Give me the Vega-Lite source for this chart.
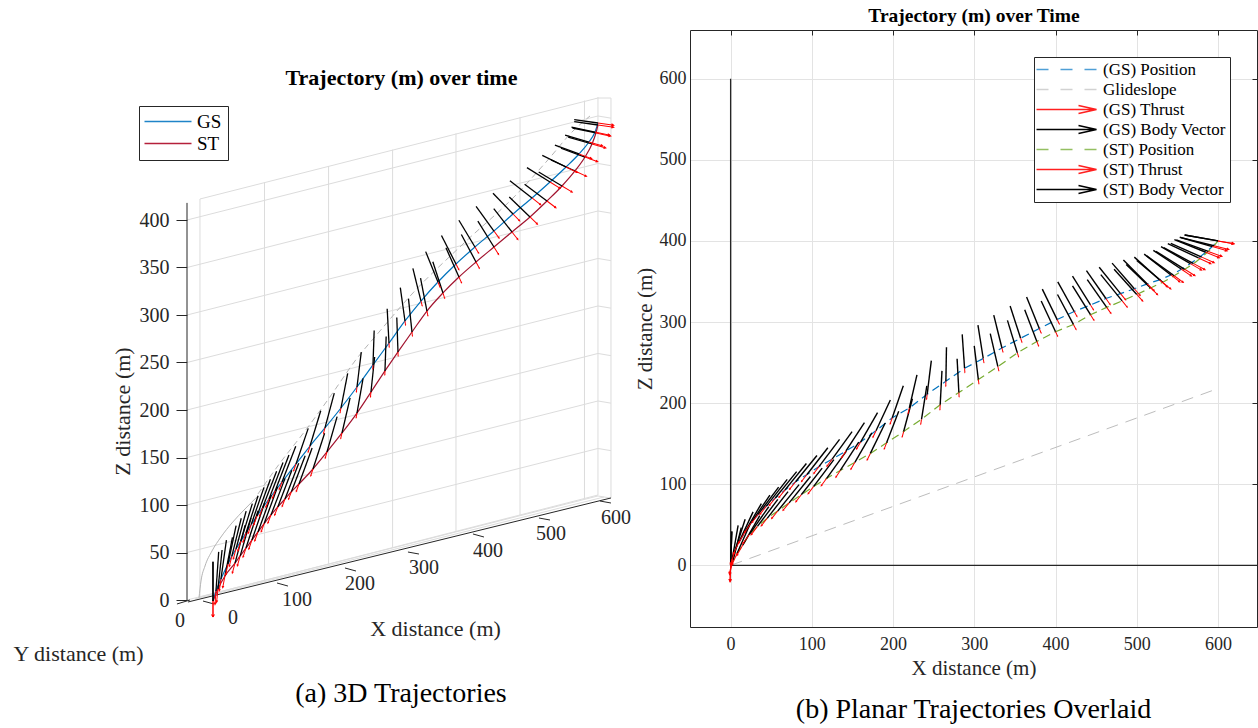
{
  "$schema": "https://vega.github.io/schema/vega-lite/v6.json",
  "padding": {"left": 12, "top": 5, "right": 2, "bottom": 2},
  "background": "white",
  "bounds": "flush",
  "spacing": 75,
  "resolve": {"scale": {"color": "independent", "shape": "independent", "size": "independent", "angle": "independent"}, "legend": {"color": "independent", "shape": "independent"}},
  "config": {
    "font": "Liberation Serif",
    "view": {"stroke": null},
    "axis": {"labelFont": "Liberation Serif", "titleFont": "Liberation Serif", "labelColor": "#262626", "titleColor": "#262626", "titleFontWeight": "normal", "domainColor": "#262626", "tickColor": "#262626"},
    "title": {"font": "Liberation Serif"},
    "legend": {"labelFont": "Liberation Serif"}
  },
  "datasets": {
    "lgrid": [
      {"x": -40.1, "y": 0, "x2": 594.1, "y2": 109.5}, {"x": 594.1, "y": 109.5, "x2": 614.2, "y2": 107.2},
      {"x": -40.1, "y": 50, "x2": 594.1, "y2": 159.5}, {"x": 594.1, "y": 159.5, "x2": 614.2, "y2": 157.2},
      {"x": -40.1, "y": 100, "x2": 594.1, "y2": 209.5}, {"x": 594.1, "y": 209.5, "x2": 614.2, "y2": 207.2},
      {"x": -40.1, "y": 150, "x2": 594.1, "y2": 259.5}, {"x": 594.1, "y": 259.5, "x2": 614.2, "y2": 257.2},
      {"x": -40.1, "y": 200, "x2": 594.1, "y2": 309.5}, {"x": 594.1, "y": 309.5, "x2": 614.2, "y2": 307.2},
      {"x": -40.1, "y": 250, "x2": 594.1, "y2": 359.5}, {"x": 594.1, "y": 359.5, "x2": 614.2, "y2": 357.2},
      {"x": -40.1, "y": 300, "x2": 594.1, "y2": 409.5}, {"x": 594.1, "y": 409.5, "x2": 614.2, "y2": 407.2},
      {"x": -40.1, "y": 350, "x2": 594.1, "y2": 459.5}, {"x": 594.1, "y": 459.5, "x2": 614.2, "y2": 457.2},
      {"x": -40.1, "y": 400, "x2": 594.1, "y2": 509.5}, {"x": 594.1, "y": 509.5, "x2": 614.2, "y2": 507.2},
      {"x": -20.1, "y": 3.2, "x2": -20.1, "y2": 422.1},
      {"x": 79.5, "y": 20.5, "x2": 79.5, "y2": 439.5},
      {"x": 178.4, "y": 37.8, "x2": 178.4, "y2": 456.7},
      {"x": 277.2, "y": 55.1, "x2": 277.2, "y2": 474.0},
      {"x": 375.0, "y": 72.1, "x2": 375.0, "y2": 491.1},
      {"x": 473.8, "y": 89.4, "x2": 473.8, "y2": 508.3},
      {"x": 573.3, "y": 106.7, "x2": 573.3, "y2": 525.7},
      {"x": 594.1, "y": 110.4, "x2": 594.1, "y2": 529.4},
      {"x": 614.2, "y": 107.4, "x2": 614.2, "y2": 528.4},
      {"x": -20.1, "y": 422.1, "x2": 594.1, "y2": 528.4},
      {"x": 594.1, "y": 528.4, "x2": 614.2, "y2": 528.4},
      {"x": -20.1, "y": 3.2, "x2": 594.1, "y2": 110.5},
      {"x": -27.8, "y": 1.1, "x2": 603.4, "y2": 108.4}
    ],
    "ldark": [
      {"x": -38.6, "y": -2.1, "x2": 614.2, "y2": 107.4},
      {"x": -40.1, "y": 0, "x2": -40.1, "y2": 418},
      {"x": 98.8, "y": 17.9, "x2": 115.7, "y2": 14.7},
      {"x": 203.7, "y": 33.7, "x2": 220.7, "y2": 30.5},
      {"x": 300.9, "y": 50.5, "x2": 317.9, "y2": 48.4},
      {"x": 401.2, "y": 69.5, "x2": 418.2, "y2": 66.3},
      {"x": 503.1, "y": 86.3, "x2": 520.1, "y2": 84.2},
      {"x": 597.2, "y": 104.2, "x2": 614.2, "y2": 102.1},
      {"x": -15.4, "y": -1.1, "x2": 1.5, "y2": -4.2},
      {"x": -55.6, "y": -4.2, "x2": -35.5, "y2": 0}
    ],
    "llab": [
      {"t": "0", "x": 30.9, "y": -18.9}, {"t": "100", "x": 129.6, "y": 0}, {"t": "200", "x": 226.9, "y": 16.8},
      {"t": "300", "x": 325.6, "y": 33.7}, {"t": "400", "x": 424.4, "y": 51.6}, {"t": "500", "x": 521.6, "y": 69.5},
      {"t": "600", "x": 621.9, "y": 86.3}, {"t": "0", "x": -50.9, "y": -22.1}
    ],
    "lgray1": [
      {"x": -21.6, "y": 2.1}, {"x": -18.5, "y": 20.0}, {"x": -12.3, "y": 35.8}, {"x": -1.5, "y": 51.6},
      {"x": 12.3, "y": 66.3}, {"x": 29.3, "y": 81.1}, {"x": 49.4, "y": 95.8}, {"x": 69.4, "y": 109.5}
    ],
    "lgray2": [
      {"x": 69.4, "y": 111.6}, {"x": 103.4, "y": 144.2}, {"x": 142.0, "y": 177.9}, {"x": 183.6, "y": 216.8},
      {"x": 219.1, "y": 251.6}, {"x": 257.7, "y": 283.2}, {"x": 308.6, "y": 323.2}, {"x": 385.8, "y": 374.7},
      {"x": 469.1, "y": 427.4}, {"x": 515.4, "y": 462.1}, {"x": 555.6, "y": 493.7}, {"x": 581.8, "y": 509.5}
    ],
    "lgs": [
      {"x": 594.1, "y": 502.1, "h": -82, "b": 30, "t": 20},
      {"x": 589.5, "y": 492.6, "h": -78, "b": 30, "t": 19},
      {"x": 580.2, "y": 482.1, "h": -74, "b": 31, "t": 18},
      {"x": 564.8, "y": 469.5, "h": -70, "b": 32, "t": 17},
      {"x": 544.8, "y": 455.8, "h": -64, "b": 33, "t": 16},
      {"x": 520.1, "y": 440.0, "h": -58, "b": 34, "t": 15},
      {"x": 492.3, "y": 423.2, "h": -52, "b": 35, "t": 14},
      {"x": 463.0, "y": 406.3, "h": -44, "b": 36, "t": 12},
      {"x": 433.6, "y": 388.4, "h": -36, "b": 38, "t": 11},
      {"x": 404.3, "y": 371.6, "h": -31, "b": 39, "t": 9},
      {"x": 375.0, "y": 353.7, "h": -27, "b": 40, "t": 8},
      {"x": 347.2, "y": 334.7, "h": -22, "b": 41, "t": 7},
      {"x": 321.0, "y": 314.7, "h": -14, "b": 42, "t": 6},
      {"x": 296.3, "y": 293.7, "h": -8, "b": 42, "t": 5},
      {"x": 271.6, "y": 270.5, "h": -3, "b": 43, "t": 5},
      {"x": 246.9, "y": 247.4, "h": 2, "b": 43, "t": 5},
      {"x": 222.2, "y": 224.2, "h": 7, "b": 44, "t": 6},
      {"x": 197.5, "y": 202.1, "h": 11, "b": 44, "t": 6},
      {"x": 172.8, "y": 181.1, "h": 15, "b": 45, "t": 7},
      {"x": 149.7, "y": 162.1, "h": 17, "b": 46, "t": 8},
      {"x": 128.1, "y": 143.2, "h": 19, "b": 47, "t": 9},
      {"x": 106.5, "y": 124.2, "h": 21, "b": 48, "t": 10},
      {"x": 96.0, "y": 115.0, "h": 21, "b": 48, "t": 10},
      {"x": 86.4, "y": 106.3, "h": 21, "b": 49, "t": 11},
      {"x": 76.5, "y": 97.0, "h": 21, "b": 49, "t": 11},
      {"x": 67.9, "y": 88.4, "h": 20, "b": 49, "t": 12},
      {"x": 59.0, "y": 79.5, "h": 19, "b": 49, "t": 12},
      {"x": 50.9, "y": 70.5, "h": 18, "b": 49, "t": 12},
      {"x": 43.0, "y": 62.0, "h": 17, "b": 49, "t": 13},
      {"x": 35.5, "y": 53.7, "h": 15, "b": 49, "t": 13},
      {"x": 29.0, "y": 46.0, "h": 14, "b": 49, "t": 13},
      {"x": 23.1, "y": 37.9, "h": 12, "b": 49, "t": 14},
      {"x": 12.3, "y": 22.1, "h": 8, "b": 49, "t": 15},
      {"x": 4.6, "y": 9.5, "h": 4, "b": 49, "t": 17},
      {"x": 0, "y": -1.1, "h": 0, "b": 49, "t": 20}
    ],
    "lst": [
      {"x": 594.1, "y": 500.0, "h": -82, "b": 30, "t": 20},
      {"x": 591.0, "y": 491.6, "h": -78, "b": 30, "t": 19},
      {"x": 584.9, "y": 480.0, "h": -74, "b": 31, "t": 18},
      {"x": 574.1, "y": 466.3, "h": -70, "b": 32, "t": 17},
      {"x": 558.6, "y": 451.6, "h": -65, "b": 33, "t": 16},
      {"x": 538.6, "y": 435.8, "h": -59, "b": 34, "t": 15},
      {"x": 515.4, "y": 420.0, "h": -53, "b": 35, "t": 14},
      {"x": 489.2, "y": 403.2, "h": -46, "b": 36, "t": 13},
      {"x": 461.4, "y": 387.4, "h": -38, "b": 37, "t": 12},
      {"x": 433.6, "y": 371.6, "h": -32, "b": 38, "t": 11},
      {"x": 405.9, "y": 355.8, "h": -28, "b": 39, "t": 9},
      {"x": 379.6, "y": 340.0, "h": -24, "b": 40, "t": 8},
      {"x": 354.9, "y": 323.2, "h": -18, "b": 41, "t": 7},
      {"x": 330.2, "y": 304.2, "h": -11, "b": 42, "t": 6},
      {"x": 307.1, "y": 282.1, "h": -6, "b": 42, "t": 5},
      {"x": 285.5, "y": 261.1, "h": -2, "b": 43, "t": 5},
      {"x": 265.4, "y": 241.1, "h": 2, "b": 43, "t": 5},
      {"x": 243.8, "y": 218.9, "h": 6, "b": 44, "t": 6},
      {"x": 222.2, "y": 196.8, "h": 10, "b": 44, "t": 6},
      {"x": 199.1, "y": 175.8, "h": 13, "b": 45, "t": 7},
      {"x": 175.9, "y": 155.8, "h": 16, "b": 46, "t": 8},
      {"x": 154.3, "y": 137.9, "h": 18, "b": 47, "t": 9},
      {"x": 132.7, "y": 122.1, "h": 20, "b": 48, "t": 10},
      {"x": 121.0, "y": 114.0, "h": 21, "b": 48, "t": 10},
      {"x": 111.1, "y": 106.3, "h": 21, "b": 48, "t": 10},
      {"x": 100.0, "y": 98.0, "h": 21, "b": 49, "t": 11},
      {"x": 89.5, "y": 89.5, "h": 21, "b": 49, "t": 11},
      {"x": 79.0, "y": 80.5, "h": 20, "b": 49, "t": 11},
      {"x": 69.4, "y": 71.6, "h": 20, "b": 49, "t": 12},
      {"x": 60.0, "y": 63.0, "h": 19, "b": 49, "t": 12},
      {"x": 50.9, "y": 54.7, "h": 18, "b": 49, "t": 12},
      {"x": 42.0, "y": 46.5, "h": 16, "b": 49, "t": 13},
      {"x": 34.0, "y": 38.9, "h": 15, "b": 49, "t": 13},
      {"x": 18.5, "y": 25.3, "h": 11, "b": 49, "t": 15},
      {"x": 7.7, "y": 11.6, "h": 6, "b": 49, "t": 17},
      {"x": 0, "y": -1.1, "h": 0, "b": 49, "t": 20}
    ],
    "lleg": [{"s": "GS"}, {"s": "ST"}],
    "glide": [{"x": 0, "z": 0}, {"x": 600, "z": 218}],
    "raxl": [{"x": 0, "z": 0, "x2": 0, "z2": 600}, {"x": 0, "z": 0, "x2": 648, "z2": 0}],
    "rgs": [
      {"x": 600, "z": 400, "h": -80, "t": 20}, {"x": 593, "z": 393, "h": -74, "t": 19},
      {"x": 585, "z": 386, "h": -68, "t": 18}, {"x": 576, "z": 379, "h": -65, "t": 17},
      {"x": 566, "z": 372, "h": -60, "t": 16}, {"x": 555, "z": 365, "h": -56, "t": 15},
      {"x": 542, "z": 358, "h": -52, "t": 14}, {"x": 528, "z": 352, "h": -48, "t": 13},
      {"x": 513, "z": 347, "h": -45, "t": 12}, {"x": 497, "z": 341, "h": -41, "t": 11},
      {"x": 480, "z": 335, "h": -39, "t": 10}, {"x": 462, "z": 329, "h": -35, "t": 9},
      {"x": 443, "z": 321, "h": -32, "t": 7}, {"x": 423, "z": 313, "h": -29, "t": 7},
      {"x": 402, "z": 303, "h": -26, "t": 6}, {"x": 380, "z": 292, "h": -22, "t": 6},
      {"x": 357, "z": 280, "h": -18, "t": 5}, {"x": 334, "z": 268, "h": -14, "t": 5},
      {"x": 311, "z": 255, "h": -9, "t": 5}, {"x": 288, "z": 243, "h": -4, "t": 5},
      {"x": 265, "z": 227, "h": 1, "t": 6}, {"x": 242, "z": 211, "h": 7, "t": 6},
      {"x": 220, "z": 194, "h": 13, "t": 7}, {"x": 199, "z": 182, "h": 19, "t": 8},
      {"x": 179, "z": 166, "h": 25, "t": 9}, {"x": 160, "z": 152, "h": 30, "t": 10},
      {"x": 142, "z": 141, "h": 33, "t": 10}, {"x": 125, "z": 131, "h": 36, "t": 11},
      {"x": 109, "z": 122, "h": 37, "t": 11}, {"x": 94, "z": 112, "h": 38, "t": 11},
      {"x": 80, "z": 103, "h": 39, "t": 12}, {"x": 67, "z": 93, "h": 39, "t": 12},
      {"x": 55, "z": 83, "h": 39, "t": 12}, {"x": 44, "z": 73, "h": 38, "t": 13},
      {"x": 34, "z": 63, "h": 37, "t": 13}, {"x": 25, "z": 52, "h": 34, "t": 14},
      {"x": 17, "z": 40, "h": 30, "t": 15}, {"x": 10, "z": 28, "h": 25, "t": 16},
      {"x": 5, "z": 17, "h": 18, "t": 17}, {"x": 2, "z": 8, "h": 10, "t": 19},
      {"x": 0, "z": 0, "h": 2, "t": 20}
    ],
    "rst": [
      {"x": 600, "z": 400, "h": -80, "t": 20}, {"x": 595, "z": 394, "h": -76, "t": 19},
      {"x": 588, "z": 387, "h": -70, "t": 18}, {"x": 580, "z": 380, "h": -66, "t": 17},
      {"x": 570, "z": 372, "h": -62, "t": 16}, {"x": 559, "z": 365, "h": -58, "t": 15},
      {"x": 546, "z": 357, "h": -54, "t": 14}, {"x": 532, "z": 349, "h": -50, "t": 13},
      {"x": 517, "z": 342, "h": -46, "t": 12}, {"x": 500, "z": 334, "h": -42, "t": 11},
      {"x": 482, "z": 326, "h": -39, "t": 10}, {"x": 463, "z": 318, "h": -35, "t": 9},
      {"x": 443, "z": 309, "h": -32, "t": 8}, {"x": 422, "z": 297, "h": -28, "t": 7},
      {"x": 400, "z": 288, "h": -25, "t": 6}, {"x": 377, "z": 276, "h": -21, "t": 6},
      {"x": 353, "z": 262, "h": -17, "t": 5}, {"x": 329, "z": 245, "h": -13, "t": 5},
      {"x": 305, "z": 229, "h": -7, "t": 5}, {"x": 281, "z": 213, "h": -3, "t": 5},
      {"x": 258, "z": 198, "h": 3, "t": 6}, {"x": 235, "z": 180, "h": 9, "t": 6},
      {"x": 213, "z": 165, "h": 15, "t": 7}, {"x": 192, "z": 151, "h": 21, "t": 8},
      {"x": 172, "z": 138, "h": 26, "t": 9}, {"x": 153, "z": 127, "h": 30, "t": 10},
      {"x": 135, "z": 117, "h": 33, "t": 10}, {"x": 118, "z": 107, "h": 36, "t": 11},
      {"x": 102, "z": 97, "h": 37, "t": 11}, {"x": 87, "z": 87, "h": 38, "t": 11},
      {"x": 72, "z": 77, "h": 39, "t": 12}, {"x": 58, "z": 67, "h": 39, "t": 12},
      {"x": 45, "z": 58, "h": 38, "t": 12}, {"x": 33, "z": 48, "h": 37, "t": 13},
      {"x": 23, "z": 38, "h": 35, "t": 14}, {"x": 15, "z": 25, "h": 30, "t": 15},
      {"x": 8, "z": 15, "h": 24, "t": 16}, {"x": 3, "z": 6, "h": 14, "t": 18},
      {"x": 0, "z": 0, "h": 2, "t": 20}
    ],
    "rleg": [
      {"s": "(GS) Position"}, {"s": "Glideslope"}, {"s": "(GS) Thrust"}, {"s": "(GS) Body Vector"},
      {"s": "(ST) Position"}, {"s": "(ST) Thrust"}, {"s": "(ST) Body Vector"}
    ]
  },
  "hconcat": [
    {
      "width": 428,
      "height": 570,
      "title": {"text": "(a) 3D Trajectories", "orient": "bottom", "anchor": "middle", "fontSize": 28, "fontWeight": "normal", "color": "#000000", "offset": 16},
      "resolve": {"axis": {"x": "independent", "y": "independent"}},
      "layer": [
        {
          "data": {"name": "lgrid"},
          "mark": {"type": "rule", "color": "#dcdcdc", "strokeWidth": 1},
          "encoding": {
            "x": {"field": "x", "type": "quantitative", "scale": {"domain": [-40.1, 620.4], "nice": false, "zero": false},
              "axis": {"orient": "top", "domain": false, "ticks": false, "labels": false, "grid": false, "title": "Trajectory (m) over time", "titleFontSize": 22, "titleFontWeight": "bold", "titleColor": "#000000", "titleX": 214, "titleY": 54, "titleAlign": "center", "titleBaseline": "alphabetic"}},
            "y": {"field": "y", "type": "quantitative", "scale": {"domain": [0, 600], "nice": false, "zero": false},
              "axis": {"orient": "left", "values": [0, 50, 100, 150, 200, 250, 300, 350, 400], "domain": false, "grid": false, "ticks": true, "tickSize": 11, "labelFontSize": 20, "labelPadding": 7, "title": "Z distance (m)", "titleFontSize": 22, "titleAngle": -90, "titleX": -65, "titleY": 381, "titleAlign": "center", "titleBaseline": "middle"}},
            "x2": {"field": "x2"},
            "y2": {"field": "y2"}
          }
        },
        {
          "data": {"name": "ldark"},
          "mark": {"type": "rule", "color": "#262626", "strokeWidth": 1},
          "encoding": {
            "x": {"field": "x", "type": "quantitative", "scale": {"domain": [-40.1, 620.4], "nice": false, "zero": false},
              "axis": {"orient": "bottom", "domain": false, "ticks": false, "labels": false, "grid": false, "title": "X distance (m)", "titleFontSize": 22, "titleX": 248, "titleY": 28, "titleAlign": "center", "titleBaseline": "middle"}},
            "y": {"field": "y", "type": "quantitative", "scale": {"domain": [0, 600], "nice": false, "zero": false},
              "axis": {"orient": "right", "domain": false, "ticks": false, "labels": false, "grid": false, "title": "Y distance (m)", "titleFontSize": 22, "titleAngle": 0, "titleX": -537, "titleY": 623, "titleAlign": "center", "titleBaseline": "middle"}},
            "x2": {"field": "x2"},
            "y2": {"field": "y2"}
          }
        },
        {
          "data": {"name": "lgray1"},
          "mark": {"type": "line", "color": "#b4b4b4", "strokeWidth": 1, "interpolate": "monotone"},
          "encoding": {
            "x": {"field": "x", "type": "quantitative", "axis": null},
            "y": {"field": "y", "type": "quantitative", "axis": null}
          }
        },
        {
          "data": {"name": "lgray2"},
          "mark": {"type": "line", "color": "#b4b4b4", "strokeWidth": 1, "strokeDash": [6, 4], "interpolate": "monotone"},
          "encoding": {
            "x": {"field": "x", "type": "quantitative", "axis": null},
            "y": {"field": "y", "type": "quantitative", "axis": null}
          }
        },
        {
          "data": {"name": "lgs"},
          "mark": {"type": "line", "color": "#0072BD", "strokeWidth": 1.2, "interpolate": "monotone"},
          "encoding": {
            "x": {"field": "x", "type": "quantitative", "axis": null},
            "y": {"field": "y", "type": "quantitative", "axis": null}
          }
        },
        {
          "data": {"name": "lst"},
          "mark": {"type": "line", "color": "#A2142F", "strokeWidth": 1.2, "interpolate": "monotone"},
          "encoding": {
            "x": {"field": "x", "type": "quantitative", "axis": null},
            "y": {"field": "y", "type": "quantitative", "axis": null}
          }
        },
        {
          "data": {"name": "lgs"},
          "mark": {"type": "point", "shape": "M0,0V-2", "filled": false, "color": "#000000", "strokeWidth": 1.3, "opacity": 1},
          "encoding": {
            "x": {"field": "x", "type": "quantitative", "axis": null},
            "y": {"field": "y", "type": "quantitative", "axis": null},
            "angle": {"field": "h", "type": "quantitative", "scale": {"domain": [-180, 180], "range": [-180, 180]}, "legend": null},
            "size": {"field": "b", "type": "quantitative", "scale": {"type": "pow", "exponent": 2, "domain": [0, 50], "range": [0, 1600]}, "legend": null}
          }
        },
        {
          "data": {"name": "lst"},
          "mark": {"type": "point", "shape": "M0,0V-2", "filled": false, "color": "#000000", "strokeWidth": 1.3, "opacity": 1},
          "encoding": {
            "x": {"field": "x", "type": "quantitative", "axis": null},
            "y": {"field": "y", "type": "quantitative", "axis": null},
            "angle": {"field": "h", "type": "quantitative", "scale": {"domain": [-180, 180], "range": [-180, 180]}, "legend": null},
            "size": {"field": "b", "type": "quantitative", "scale": {"type": "pow", "exponent": 2, "domain": [0, 50], "range": [0, 1600]}, "legend": null}
          }
        },
        {
          "data": {"name": "lgs"},
          "mark": {"type": "point", "shape": "M0,0V2M-0.15,1.7L0,2L0.15,1.7", "filled": false, "color": "#ff0000", "strokeWidth": 1, "opacity": 1},
          "encoding": {
            "x": {"field": "x", "type": "quantitative", "axis": null},
            "y": {"field": "y", "type": "quantitative", "axis": null},
            "angle": {"field": "h", "type": "quantitative", "scale": {"domain": [-180, 180], "range": [-180, 180]}, "legend": null},
            "size": {"field": "t", "type": "quantitative", "scale": {"type": "pow", "exponent": 2, "domain": [0, 50], "range": [0, 1600]}, "legend": null}
          }
        },
        {
          "data": {"name": "lst"},
          "mark": {"type": "point", "shape": "M0,0V2M-0.15,1.7L0,2L0.15,1.7", "filled": false, "color": "#ff0000", "strokeWidth": 1, "opacity": 1},
          "encoding": {
            "x": {"field": "x", "type": "quantitative", "axis": null},
            "y": {"field": "y", "type": "quantitative", "axis": null},
            "angle": {"field": "h", "type": "quantitative", "scale": {"domain": [-180, 180], "range": [-180, 180]}, "legend": null},
            "size": {"field": "t", "type": "quantitative", "scale": {"type": "pow", "exponent": 2, "domain": [0, 50], "range": [0, 1600]}, "legend": null}
          }
        },
        {
          "data": {"name": "llab"},
          "mark": {"type": "text", "font": "Liberation Serif", "fontSize": 20, "color": "#262626", "align": "center", "baseline": "middle"},
          "encoding": {
            "x": {"field": "x", "type": "quantitative", "axis": null},
            "y": {"field": "y", "type": "quantitative", "axis": null},
            "text": {"field": "t", "type": "nominal"}
          }
        },
        {
          "data": {"name": "lleg"},
          "mark": {"type": "point", "filled": false, "opacity": 0, "strokeWidth": 1.5},
          "encoding": {
            "color": {"field": "s", "type": "nominal", "scale": {"domain": ["GS", "ST"], "range": ["#1f84c8", "#b5203b"]},
              "legend": {"title": null, "orient": "none", "legendX": -48, "legendY": 76, "strokeColor": "#262626", "fillColor": "white", "padding": 6, "labelFontSize": 19, "labelColor": "#000000", "labelOffset": 33, "rowPadding": 2, "symbolStrokeWidth": 1.5, "symbolSize": 100, "symbolOpacity": 1}},
            "shape": {"field": "s", "type": "nominal", "scale": {"domain": ["GS", "ST"], "range": ["M-2,0H7.4", "M-2,0H7.4"]},
              "legend": {"title": null, "orient": "none", "legendX": -48, "legendY": 76, "strokeColor": "#262626", "fillColor": "white", "padding": 6, "labelFontSize": 19, "labelColor": "#000000", "labelOffset": 33, "rowPadding": 2, "symbolStrokeWidth": 1.5, "symbolSize": 100, "symbolOpacity": 1}}
          }
        }
      ]
    },
    {
      "width": 567,
      "height": 597,
      "title": {"text": "(b) Planar Trajectories Overlaid", "orient": "bottom", "anchor": "middle", "fontSize": 28, "fontWeight": "normal", "color": "#000000", "offset": 18},
      "resolve": {"axis": {"x": "independent", "y": "independent"}},
      "layer": [
        {
          "data": {"name": "glide"},
          "mark": {"type": "line", "color": "#bdbdbd", "strokeWidth": 1, "strokeDash": [12, 8]},
          "encoding": {
            "x": {"field": "x", "type": "quantitative", "scale": {"domain": [-50, 648], "nice": false, "zero": false},
              "axis": {"orient": "bottom", "values": [0, 100, 200, 300, 400, 500, 600], "grid": true, "gridColor": "#e3e3e3", "ticks": false, "domain": true, "labelFontSize": 18, "labelPadding": 8, "title": "X distance (m)", "titleFontSize": 21, "titlePadding": 4}},
            "y": {"field": "z", "type": "quantitative", "scale": {"domain": [-76, 660], "nice": false, "zero": false},
              "axis": {"orient": "left", "values": [0, 100, 200, 300, 400, 500, 600], "grid": true, "gridColor": "#e3e3e3", "ticks": false, "domain": true, "labelFontSize": 18, "labelPadding": 4, "title": "Z distance (m)", "titleFontSize": 21, "titlePadding": 4}}
          }
        },
        {
          "data": {"name": "rgs"},
          "mark": {"type": "line", "color": "#0072BD", "strokeWidth": 1.2, "strokeDash": [8, 5]},
          "encoding": {
            "x": {"field": "x", "type": "quantitative", "scale": {"domain": [-50, 648], "nice": false, "zero": false},
              "axis": {"orient": "top", "values": [0, 100, 200, 300, 400, 500, 600], "labels": false, "ticks": true, "tickSize": -5, "grid": false, "domain": true, "title": "Trajectory (m) over Time", "titleFontSize": 19.5, "titleFontWeight": "bold", "titleColor": "#000000", "titlePadding": 4}},
            "y": {"field": "z", "type": "quantitative", "scale": {"domain": [-76, 660], "nice": false, "zero": false},
              "axis": {"orient": "right", "values": [0, 100, 200, 300, 400, 500, 600], "labels": false, "ticks": true, "tickSize": -5, "grid": false, "domain": true, "title": null}}
          }
        },
        {
          "data": {"name": "rst"},
          "mark": {"type": "line", "color": "#77AC30", "strokeWidth": 1.2, "strokeDash": [8, 5]},
          "encoding": {
            "x": {"field": "x", "type": "quantitative", "axis": null},
            "y": {"field": "z", "type": "quantitative", "axis": null}
          }
        },
        {
          "data": {"name": "raxl"},
          "mark": {"type": "rule", "color": "#262626", "strokeWidth": 1.3},
          "encoding": {
            "x": {"field": "x", "type": "quantitative", "axis": null},
            "y": {"field": "z", "type": "quantitative", "axis": null},
            "x2": {"field": "x2"},
            "y2": {"field": "z2"}
          }
        },
        {
          "data": {"name": "rgs"},
          "mark": {"type": "point", "shape": "M0,0V-2", "filled": false, "color": "#000000", "strokeWidth": 1.4, "opacity": 1, "size": 1150},
          "encoding": {
            "x": {"field": "x", "type": "quantitative", "axis": null},
            "y": {"field": "z", "type": "quantitative", "axis": null},
            "angle": {"field": "h", "type": "quantitative", "scale": {"domain": [-180, 180], "range": [-180, 180]}, "legend": null}
          }
        },
        {
          "data": {"name": "rst"},
          "mark": {"type": "point", "shape": "M0,0V-2", "filled": false, "color": "#000000", "strokeWidth": 1.4, "opacity": 1, "size": 1150},
          "encoding": {
            "x": {"field": "x", "type": "quantitative", "axis": null},
            "y": {"field": "z", "type": "quantitative", "axis": null},
            "angle": {"field": "h", "type": "quantitative", "scale": {"domain": [-180, 180], "range": [-180, 180]}, "legend": null}
          }
        },
        {
          "data": {"name": "rgs"},
          "mark": {"type": "point", "shape": "M0,0V2M-0.15,1.7L0,2L0.15,1.7", "filled": false, "color": "#ff0000", "strokeWidth": 1, "opacity": 1},
          "encoding": {
            "x": {"field": "x", "type": "quantitative", "axis": null},
            "y": {"field": "z", "type": "quantitative", "axis": null},
            "angle": {"field": "h", "type": "quantitative", "scale": {"domain": [-180, 180], "range": [-180, 180]}, "legend": null},
            "size": {"field": "t", "type": "quantitative", "scale": {"type": "pow", "exponent": 2, "domain": [0, 50], "range": [0, 1647]}, "legend": null}
          }
        },
        {
          "data": {"name": "rst"},
          "mark": {"type": "point", "shape": "M0,0V2M-0.15,1.7L0,2L0.15,1.7", "filled": false, "color": "#ff0000", "strokeWidth": 1, "opacity": 1},
          "encoding": {
            "x": {"field": "x", "type": "quantitative", "axis": null},
            "y": {"field": "z", "type": "quantitative", "axis": null},
            "angle": {"field": "h", "type": "quantitative", "scale": {"domain": [-180, 180], "range": [-180, 180]}, "legend": null},
            "size": {"field": "t", "type": "quantitative", "scale": {"type": "pow", "exponent": 2, "domain": [0, 50], "range": [0, 1647]}, "legend": null}
          }
        },
        {
          "data": {"name": "rleg"},
          "mark": {"type": "point", "filled": false, "opacity": 0, "strokeWidth": 1.5},
          "encoding": {
            "color": {"field": "s", "type": "nominal",
              "scale": {"domain": ["(GS) Position", "Glideslope", "(GS) Thrust", "(GS) Body Vector", "(ST) Position", "(ST) Thrust", "(ST) Body Vector"], "range": ["#4f9fd6", "#d2d2d2", "#ff2020", "#000000", "#94bf62", "#ff2020", "#000000"]},
              "legend": {"title": null, "orient": "none", "legendX": 344, "legendY": 27, "strokeColor": "#262626", "fillColor": "white", "padding": 4, "labelFontSize": 17, "labelColor": "#000000", "labelOffset": 48, "rowPadding": 2, "symbolStrokeWidth": 1.5, "symbolSize": 100, "symbolOpacity": 1, "labelLimit": 300}},
            "shape": {"field": "s", "type": "nominal",
              "scale": {"domain": ["(GS) Position", "Glideslope", "(GS) Thrust", "(GS) Body Vector", "(ST) Position", "(ST) Thrust", "(ST) Body Vector"], "range": ["M-2,0H0.4M2.8,0H5.2M7.6,0H10", "M-2,0H0.4M2.8,0H5.2M7.6,0H10", "M-2,0H10M6.4,-0.8L10,0L6.4,0.8", "M-2,0H10M6.4,-0.8L10,0L6.4,0.8", "M-2,0H0.4M2.8,0H5.2M7.6,0H10", "M-2,0H10M6.4,-0.8L10,0L6.4,0.8", "M-2,0H10M6.4,-0.8L10,0L6.4,0.8"]},
              "legend": {"title": null, "orient": "none", "legendX": 344, "legendY": 27, "strokeColor": "#262626", "fillColor": "white", "padding": 4, "labelFontSize": 17, "labelColor": "#000000", "labelOffset": 48, "rowPadding": 2, "symbolStrokeWidth": 1.5, "symbolSize": 100, "symbolOpacity": 1, "labelLimit": 300}}
          }
        }
      ]
    }
  ]
}
